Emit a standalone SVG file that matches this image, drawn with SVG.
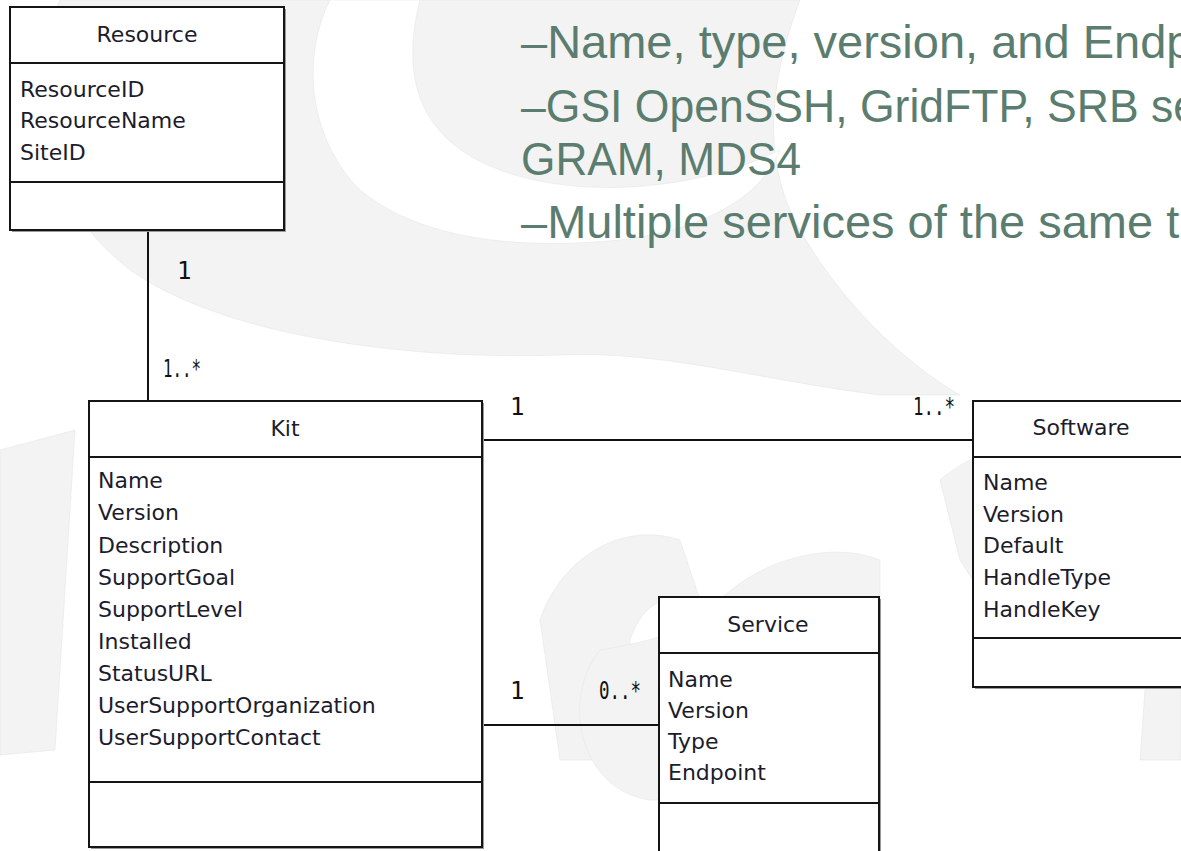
<svg xmlns="http://www.w3.org/2000/svg" width="1181" height="851" viewBox="0 0 1181 851">
<style>
.bg{fill:#ffffff}
.wm{fill:#f3f3f3;stroke:#e6e6e6;stroke-width:0.6}
.wmw{fill:#ffffff;stroke:#e6e6e6;stroke-width:0.6}
.box{fill:#ffffff;stroke:#151515;stroke-width:2}
.shadow{fill:#9a9a9a}
.div{stroke:#151515;stroke-width:2}
.title{font-family:"DejaVu Sans",sans-serif;font-size:22px;fill:#1c1c2c;text-anchor:middle}
.attr{font-family:"DejaVu Sans",sans-serif;font-size:22px;fill:#1c1c2c}
.mult{font-family:"DejaVu Sans Mono",monospace;font-size:24px;fill:#111}
.conn{stroke:#111;stroke-width:2;fill:none}
.note{font-family:"Liberation Sans",sans-serif;font-size:47px;fill:#5b7d6f}
</style>
<rect class="bg" x="0" y="0" width="1181" height="851"/>
<g id="watermark">
<path class="wm" d="M60,0 C20,90 40,200 130,270 C230,340 420,360 560,355 C660,350 760,380 880,395 L960,395 C900,360 840,300 800,230 C760,160 770,80 800,0 Z"/>
<path class="wmw" d="M330,0 C300,60 310,140 360,190 C420,240 520,250 620,240 C700,230 760,200 780,150 C700,190 580,200 500,170 C420,140 400,80 420,0 Z"/>
<path class="wm" d="M0,450 L75,430 L55,750 L0,755 Z"/>
<path class="wm" d="M540,620 C560,560 620,520 680,540 L700,600 C660,590 640,610 630,640 L620,760 L560,760 Z"/>
<path class="wm" d="M600,650 C560,700 580,790 650,800 L880,800 L880,560 C830,540 760,560 720,600 C690,630 660,640 600,650 Z"/>
<path class="wm" d="M940,480 C1000,430 1080,430 1130,470 L1181,470 L1181,760 L1140,760 L1150,620 C1120,650 1060,660 1010,640 L960,560 Z"/>
</g>
<g id="connectors">
<line class="conn" x1="148" y1="230" x2="148" y2="401"/>
<line class="conn" x1="482" y1="440" x2="973" y2="440"/>
<line class="conn" x1="482" y1="725" x2="659" y2="725"/>
<text class="mult" x="177" y="279">1</text>
<text class="mult" x="163" y="377" textLength="38" lengthAdjust="spacingAndGlyphs">1..*</text>
<text class="mult" x="510" y="415">1</text>
<text class="mult" x="913" y="415" textLength="42" lengthAdjust="spacingAndGlyphs">1..*</text>
<text class="mult" x="510" y="699">1</text>
<text class="mult" x="599" y="699" textLength="42" lengthAdjust="spacingAndGlyphs">0..*</text>
</g>
<g id="note">
<text class="note" x="521" y="58">–Name, type, version, and Endp</text>
<text class="note" x="521" y="122" textLength="677" lengthAdjust="spacingAndGlyphs">–GSI OpenSSH, GridFTP, SRB se</text>
<text class="note" x="521" y="175" textLength="280" lengthAdjust="spacingAndGlyphs">GRAM, MDS4</text>
<text class="note" x="521" y="238">–Multiple services of the same t</text>
</g>
<g id="resource">
<rect class="shadow" x="12" y="9" width="274" height="223"/>
<rect class="box" x="10" y="7" width="274" height="223"/>
<line class="div" x1="10" y1="63" x2="284" y2="63"/>
<line class="div" x1="10" y1="182" x2="284" y2="182"/>
<text class="title" x="147" y="42">Resource</text>
<text class="attr" x="20" y="97">ResourceID</text>
<text class="attr" x="20" y="128">ResourceName</text>
<text class="attr" x="20" y="160">SiteID</text>
</g>
<g id="kit">
<rect class="shadow" x="91" y="403" width="393" height="446"/>
<rect class="box" x="89" y="401" width="393" height="446"/>
<line class="div" x1="89" y1="457" x2="482" y2="457"/>
<line class="div" x1="89" y1="782" x2="482" y2="782"/>
<text class="title" x="285" y="436">Kit</text>
<text class="attr" x="98" y="488">Name</text>
<text class="attr" x="98" y="520">Version</text>
<text class="attr" x="98" y="553">Description</text>
<text class="attr" x="98" y="585">SupportGoal</text>
<text class="attr" x="98" y="617">SupportLevel</text>
<text class="attr" x="98" y="649">Installed</text>
<text class="attr" x="98" y="681">StatusURL</text>
<text class="attr" x="98" y="713">UserSupportOrganization</text>
<text class="attr" x="98" y="745">UserSupportContact</text>
</g>
<g id="software">
<rect class="shadow" x="975" y="403" width="230" height="286"/>
<rect class="box" x="973" y="401" width="230" height="286"/>
<line class="div" x1="973" y1="457" x2="1203" y2="457"/>
<line class="div" x1="973" y1="638" x2="1203" y2="638"/>
<text class="title" x="1081" y="435">Software</text>
<text class="attr" x="983" y="490">Name</text>
<text class="attr" x="983" y="522">Version</text>
<text class="attr" x="983" y="553">Default</text>
<text class="attr" x="983" y="585">HandleType</text>
<text class="attr" x="983" y="617">HandleKey</text>
</g>
<g id="service">
<rect class="shadow" x="661" y="599" width="220" height="270"/>
<rect class="box" x="659" y="597" width="220" height="270"/>
<line class="div" x1="659" y1="653" x2="879" y2="653"/>
<line class="div" x1="659" y1="803" x2="879" y2="803"/>
<text class="title" x="768" y="632">Service</text>
<text class="attr" x="668" y="687">Name</text>
<text class="attr" x="668" y="718">Version</text>
<text class="attr" x="668" y="749">Type</text>
<text class="attr" x="668" y="780">Endpoint</text>
</g>
</svg>
